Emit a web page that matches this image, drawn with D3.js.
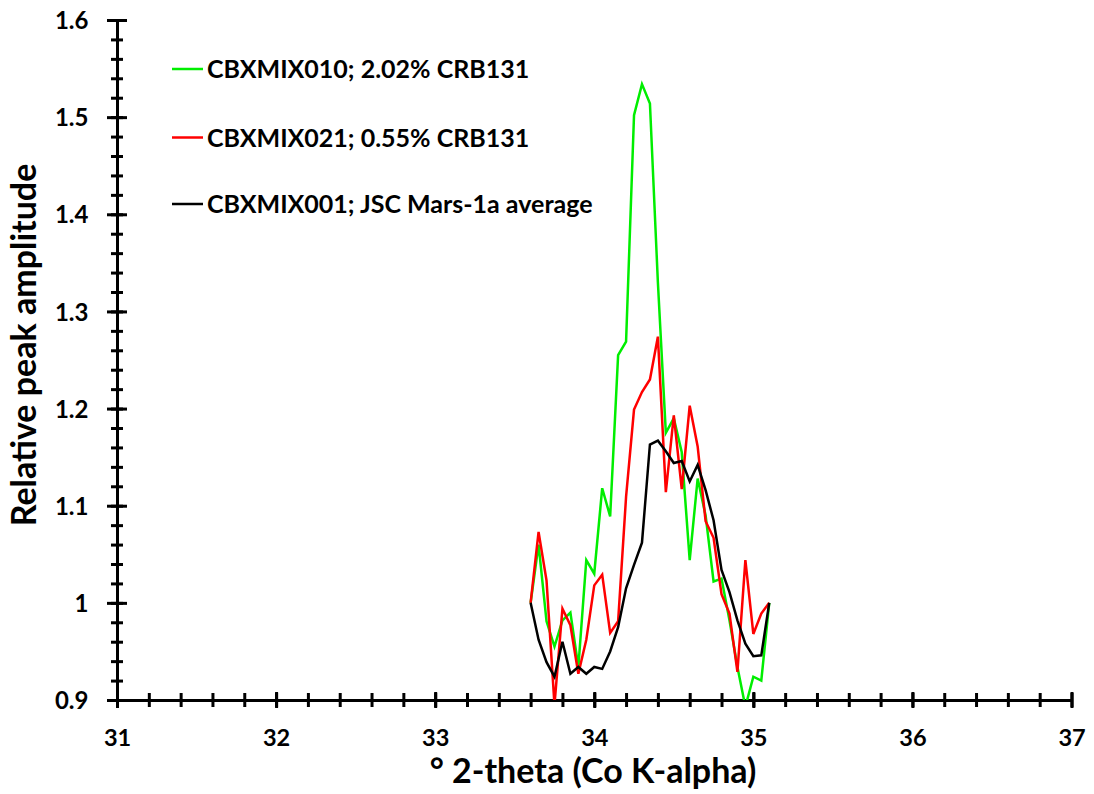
<!DOCTYPE html>
<html>
<head>
<meta charset="utf-8">
<script src="https://cdn.jsdelivr.net/npm/d3@7"></script>
<style>
  body { margin: 0; background: #fff; }
  svg { font-family: Lato, "Open Sans", sans-serif; font-weight: bold; }
</style>
</head>
<body>
<svg width="1094" height="794" viewBox="0 0 1094 794"></svg>
<script>
// 2-theta positions, 33.6 to 35.1 in 0.05 steps
const twoTheta = [33.60, 33.65, 33.70, 33.75, 33.80, 33.85, 33.90, 33.95, 34.00, 34.05,
                  34.10, 34.15, 34.20, 34.25, 34.30, 34.35, 34.40, 34.45, 34.50, 34.55,
                  34.60, 34.65, 34.70, 34.75, 34.80, 34.85, 34.90, 34.95, 35.00, 35.05, 35.10];

const mix010 = [1.000, 1.060, 0.981, 0.955, 0.982, 0.990, 0.934, 1.044, 1.030, 1.118,
                1.089, 1.255, 1.269, 1.502, 1.534, 1.514, 1.330, 1.175, 1.190, 1.155,
                1.044, 1.128, 1.090, 1.022, 1.025, 0.982, 0.934, 0.893, 0.924, 0.920, 1.000];

const mix021 = [1.000, 1.073, 1.023, 0.895, 0.994, 0.977, 0.927, 0.962, 1.018, 1.029,
                0.969, 0.981, 1.109, 1.199, 1.217, 1.230, 1.274, 1.114, 1.193, 1.117,
                1.203, 1.161, 1.084, 1.067, 1.009, 0.989, 0.929, 1.044, 0.968, 0.989, 1.000];

const mix001 = [1.000, 0.962, 0.939, 0.924, 0.960, 0.927, 0.934, 0.927, 0.934, 0.932,
                0.950, 0.975, 1.015, 1.039, 1.062, 1.163, 1.167, 1.156, 1.144, 1.146,
                1.125, 1.142, 1.116, 1.085, 1.034, 1.011, 0.982, 0.958, 0.945, 0.946, 1.000];

const seriesNames = ["CBXMIX010; 2.02% CRB131", "CBXMIX021; 0.55% CRB131", "CBXMIX001; JSC Mars-1a average"];
const seriesColors = ["#00ee00", "#ff0000", "#000000"];

const xTicks = [31, 32, 33, 34, 35, 36, 37];
const yTicks = [0.9, 1.0, 1.1, 1.2, 1.3, 1.4, 1.5, 1.6];

const svg = d3.select("svg");

const x = d3.scaleLinear().domain([31, 37]).range([117, 1071.5]);
const y = d3.scaleLinear().domain([0.9, 1.6]).range([700, 20]);

svg.append("defs").append("clipPath").attr("id", "plot")
    .append("rect")
    .attr("x", x(31)).attr("y", y(1.6))
    .attr("width", x(37) - x(31)).attr("height", y(0.9) - y(1.6));

// minor ticks
const xMinor = d3.range(31, 37.001, 0.2).map(d => +d.toFixed(1));
const yMinor = d3.range(0.9, 1.6001, 0.02).map(d => +d.toFixed(2));

const xAxisG = svg.append("g").attr("transform", `translate(0,${y(0.9)})`);
xAxisG.call(d3.axisBottom(x).tickValues(xMinor).tickFormat("").tickSizeOuter(0))
    .call(g => g.selectAll(".tick line").attr("y1", -7).attr("y2", 7))
    .call(g => g.select(".domain").remove());
const xMajor = svg.append("g").attr("transform", `translate(0,${y(0.9)})`);
xMajor.call(d3.axisBottom(x).tickValues(xTicks).tickFormat(d3.format("d")).tickSizeOuter(0))
    .call(g => g.selectAll(".tick line").attr("y1", -8).attr("y2", 8))
    .call(g => g.selectAll(".tick text").attr("y", 46).attr("dy", 0)
        .attr("font-size", 23.5).attr("font-family", "Lato, sans-serif").attr("font-weight", "bold"));

const yAxisG = svg.append("g").attr("transform", `translate(${x(31)},0)`);
yAxisG.call(d3.axisLeft(y).tickValues(yMinor).tickFormat("").tickSizeOuter(0))
    .call(g => g.selectAll(".tick line").attr("x1", -6).attr("x2", 6))
    .call(g => g.select(".domain").remove());
const yMajor = svg.append("g").attr("transform", `translate(${x(31)},0)`);
yMajor.call(d3.axisLeft(y).tickValues(yTicks).tickFormat(d => String(+d.toFixed(1))).tickSizeOuter(0))
    .call(g => g.selectAll(".tick line").attr("x1", -10).attr("x2", 10))
    .call(g => g.selectAll(".tick text").attr("x", -28.5).attr("dy", "0.36em")
        .attr("font-size", 24).attr("font-family", "Lato, sans-serif").attr("font-weight", "bold"));

svg.selectAll(".tick line").attr("stroke", "#000").attr("stroke-width", 3);
svg.selectAll(".domain").attr("stroke", "#000").attr("stroke-width", 3);
svg.selectAll(".tick text").attr("fill", "#000");

// series lines
const allSeries = [mix010, mix021, mix001];
const line = d3.line().x((d, i) => x(twoTheta[i])).y(d => y(d));

svg.append("g").attr("clip-path", "url(#plot)")
    .selectAll("path")
    .data(allSeries)
    .join("path")
    .attr("d", d => line(d))
    .attr("fill", "none")
    .attr("stroke", (d, i) => seriesColors[i])
    .attr("stroke-width", 2.5)
    .attr("stroke-linejoin", "miter");

// legend
const legendY = [69, 137.5, 204];
const legend = svg.append("g").selectAll("g")
    .data(seriesNames)
    .join("g")
    .attr("transform", (d, i) => `translate(172,${legendY[i]})`);
legend.append("line")
    .attr("x1", 0).attr("x2", 31)
    .attr("stroke", (d, i) => seriesColors[i])
    .attr("stroke-width", 2.5);
legend.append("text")
    .attr("x", 35).attr("dy", "0.36em")
    .attr("font-size", 25)
    .text(d => d);

// axis titles
svg.append("text")
    .attr("x", 593).attr("y", 783)
    .attr("text-anchor", "middle")
    .attr("font-size", 34)
    .text("° 2-theta (Co K-alpha)");

svg.append("text")
    .attr("transform", "translate(36,345) rotate(-90)")
    .attr("text-anchor", "middle")
    .attr("font-size", 34)
    .text("Relative peak amplitude");
</script>
</body>
</html>
